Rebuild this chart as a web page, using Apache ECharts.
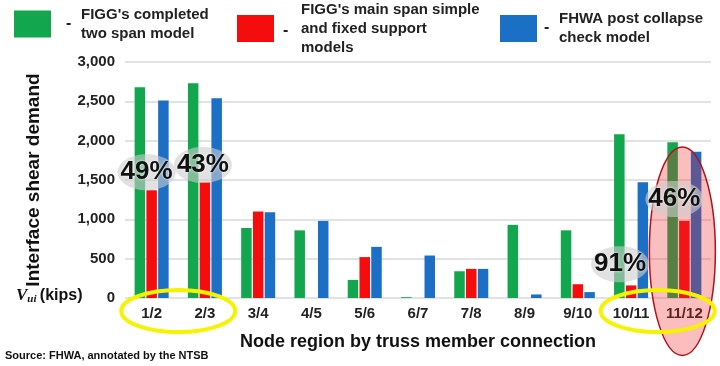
<!DOCTYPE html>
<html>
<head>
<meta charset="utf-8">
<script src="https://cdn.jsdelivr.net/npm/echarts@6/dist/echarts.min.js"></script>
<style>
html,body{margin:0;padding:0;background:#fff;}
#c{width:720px;height:366px;}
</style>
</head>
<body>
<div id="c"></div>
<script>
var categories = ['1/2','2/3','3/4','4/5','5/6','6/7','7/8','8/9','9/10','10/11','11/12'];
var seriesNames = ["FIGG's completed two span model", "FIGG's main span simple and fixed support models", "FHWA post collapse check model"];
var greenValues = [2680, 2730, 890, 860, 230, 10, 340, 930, 860, 2080, 1980];
var redValues   = [1370, 1470, 1100, 0, 520, 0, 370, 0, 175, 160, 980];
var blueValues  = [2510, 2540, 1090, 980, 650, 540, 370, 45, 75, 1470, 1860];
var yTicks = [0, 500, 1000, 1500, 2000, 2500, 3000];
// annotations: [category, value position, label]
var pctLabels = [['1/2', 1600, '49%'], ['2/3', 1690, '43%'], ['10/11', 430, '91%'], ['11/12', 1260, '46%']];

var FONT = '"Liberation Sans", Arial, sans-serif';
var chart = echarts.init(document.getElementById('c'), null, {renderer: 'canvas'});

function legendCfg(name, left, top, padTop, padLeft, formatter) {
  return {
    data: [name], left: left, top: top, padding: 0, selectedMode: false,
    itemWidth: 37, itemHeight: 27, icon: 'rect', itemGap: 0,
    formatter: formatter,
    textStyle: {fontFamily: FONT, fontWeight: 'bold', fontSize: 15, lineHeight: 19, color: '#222', padding: [padTop, 0, 0, padLeft]}
  };
}

var option = {
  animation: false,
  backgroundColor: '#fff',
  textStyle: {fontFamily: FONT},
  legend: [
    legendCfg(seriesNames[0], 14, 1.5, 7, 25, function(){ return "FIGG's completed\ntwo span model"; }),
    legendCfg(seriesNames[1], 237, -8.5, 17, 22, function(){ return "FIGG's main span simple\nand fixed support\nmodels"; }),
    legendCfg(seriesNames[2], 500, 9.5, 0, 17, function(){ return "FHWA post collapse\ncheck model"; })
  ],
  grid: {left: 125, right: 9, top: 62, bottom: 68, containLabel: false},
  xAxis: {
    type: 'category', data: categories,
    axisLine: {show: false}, axisTick: {show: false},
    axisLabel: {fontFamily: FONT, fontWeight: 'bold', fontSize: 15, color: '#222', margin: 8},
    name: 'Node region by truss member connection', nameLocation: 'middle', nameGap: 35,
    nameTextStyle: {fontFamily: FONT, fontWeight: 'bold', fontSize: 18, color: '#111'}
  },
  yAxis: {
    type: 'value', min: yTicks[0], max: yTicks[yTicks.length-1], interval: yTicks[1]-yTicks[0],
    axisLine: {show: false}, axisTick: {show: false},
    splitLine: {lineStyle: {color: '#d9d9d9', width: 1.5}},
    axisLabel: {fontFamily: FONT, fontWeight: 'bold', fontSize: 15, color: '#222', margin: 10,
      formatter: function(v){ return v.toLocaleString('en-US'); }},
    name: 'Interface shear demand', nameLocation: 'middle', nameRotate: 90, nameGap: 82,
    nameTextStyle: {fontFamily: FONT, fontWeight: 'bold', fontSize: 19, color: '#111'}
  },
  series: [
    {name: seriesNames[0], type: 'bar', data: greenValues, barWidth: 10.5, barGap: '12%', itemStyle: {color: '#12a64f'}},
    {name: seriesNames[1], type: 'bar', data: redValues, barWidth: 10.5, barGap: '12%', itemStyle: {color: '#f50d0d'}},
    {name: seriesNames[2], type: 'bar', data: blueValues, barWidth: 10.5, barGap: '12%', itemStyle: {color: '#1b6fc4'}}
  ]
};
chart.setOption(option);

function px(cat, val) { return chart.convertToPixel({gridIndex: 0}, [cat, val]); }

var g = [];
// dashes in legend
[[66, 25], [283, 32], [544, 29]].forEach(function(p){
  g.push({type: 'text', left: p[0], top: p[1] - 9, z: 50, style: {text: '-', font: 'bold 16px ' + FONT, fill: '#222'}});
});
// Source
g.push({type: 'text', left: 5, top: 350, z: 50, style: {text: 'Source: FHWA, annotated by the NTSB', font: 'bold 11px ' + FONT, fill: '#111'}});
// V_ui (kips)
var p0 = px(categories[0], 0);
g.push({type: 'text', left: 16, top: p0[1] - 11, z: 50, style: {
  text: '{v|V}{s|ui} {k|(kips)}',
  rich: {
    v: {font: 'italic bold 17px "Liberation Serif", serif', fill: '#111'},
    s: {font: 'italic bold 11px "Liberation Serif", serif', fill: '#111', padding: [8, 0, 0, 0]},
    k: {font: 'bold 16px ' + FONT, fill: '#111'}
  }
}});

// red ellipse around 11/12
var pr = px('11/12', 580);
var pTop = px('11/12', 1920);
var pBot = px('11/12', -730);
g.push({type: 'ellipse', z: 60, shape: {cx: pr[0] - 2, cy: (pTop[1] + pBot[1]) / 2, rx: 33, ry: (pBot[1] - pTop[1]) / 2},
  style: {fill: 'rgba(240,40,40,0.30)', stroke: '#b3121a', lineWidth: 1.5}});

// yellow ellipses
var y1 = px('1/2', 0), y2 = px('2/3', 0), y3 = px('10/11', 0), y4 = px('11/12', 0);
[[y1, y2], [y3, y4]].forEach(function(pp){
  g.push({type: 'ellipse', z: 70, shape: {cx: (pp[0][0] + pp[1][0]) / 2, cy: pp[0][1] + 13, rx: 57, ry: 21},
    style: {fill: 'none', stroke: '#f4f400', lineWidth: 4}});
});

// percent annotations
var offs = {'1/2': -5, '2/3': -2, '10/11': -11, '11/12': -10};
pctLabels.forEach(function(a){
  var p = px(a[0], a[1]);
  var cx = p[0] + offs[a[0]];
  g.push({type: 'ellipse', z: 80, shape: {cx: cx, cy: p[1], rx: 29, ry: 18},
    style: {fill: 'rgba(205,205,205,0.6)'}});
  g.push({type: 'text', z: 90, x: cx, y: p[1], style: {text: a[2], font: 'bold 26px ' + FONT, fill: '#111',
    align: 'center', verticalAlign: 'middle', textShadowColor: 'rgba(255,255,255,0.9)', textShadowBlur: 3}});
});

chart.setOption({graphic: {elements: g}});
</script>
</body>
</html>
